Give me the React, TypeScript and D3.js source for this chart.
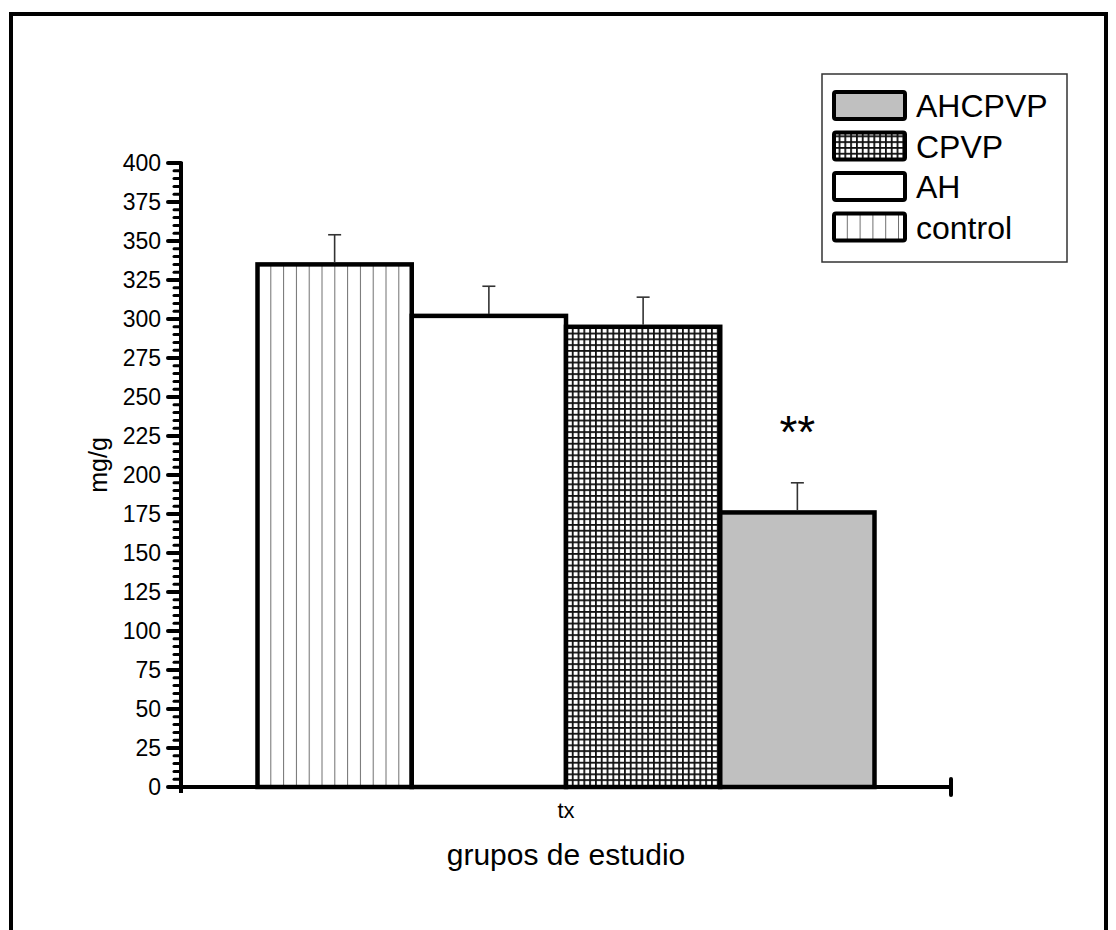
import React from "react";
import * as d3 from "d3";

// values
const groups = ["control", "AH", "CPVP", "AHCPVP"];
const means = [335, 302, 295, 176];
const errors = [19, 19, 19, 19];
const categories = ["tx"];
const marks = ["", "", "", "**"];
const yTicks = [0, 25, 50, 75, 100, 125, 150, 175, 200, 225, 250, 275, 300, 325, 350, 375, 400];
const legendOrder = ["AHCPVP", "CPVP", "AH", "control"];

const W = 1116;
const H = 930;
const font = "'Liberation Sans', Arial, Helvetica, sans-serif";

const fills: Record<string, string> = {
  control: "url(#vlines)",
  AH: "#ffffff",
  CPVP: "url(#grid)",
  AHCPVP: "#c0c0c0",
};

export default function App() {
  const x0 = d3.scaleBand().domain(categories).range([181, 951]).paddingInner(0).paddingOuter(0.124);
  const x1 = d3
    .scaleBand()
    .domain(groups)
    .range([x0("tx")!, x0("tx")! + x0.bandwidth()])
    .padding(0);
  const y = d3.scaleLinear().domain([0, 400]).range([787, 163]);

  const minor = d3.range(0, 401, 5).filter(v => v % 25 !== 0);

  return (
    <svg
      width={W}
      height={H}
      style={{ position: "absolute", left: 0, top: 0, background: "#fff" }}
      fontFamily={font}
    >
      <defs>
        <pattern id="vlines" patternUnits="userSpaceOnUse" width={12.8} height={10} x={x1("control")!}>
          <rect width={12.8} height={10} fill="#fff" />
          <line x1={0} x2={0} y1={0} y2={10} stroke="#707070" strokeWidth={2} />
        </pattern>
        <pattern id="grid" patternUnits="userSpaceOnUse" width={5.8} height={5.8} x={x1("CPVP")!} y={y(295)}>
          <rect width={5.8} height={5.8} fill="#fff" />
          <line x1={0.9} x2={0.9} y1={0} y2={5.8} stroke="#111" strokeWidth={1.8} />
          <line x1={0} x2={5.8} y1={0.9} y2={0.9} stroke="#111" strokeWidth={1.8} />
        </pattern>
        <pattern id="vlinesLeg" patternUnits="userSpaceOnUse" width={12.8} height={10} x={834}>
          <rect width={12.8} height={10} fill="#fff" />
          <line x1={0} x2={0} y1={0} y2={10} stroke="#707070" strokeWidth={2} />
        </pattern>
      </defs>

      {/* outer frame */}
      <rect x={11} y={14} width={1095} height={960} fill="none" stroke="#000" strokeWidth={4} />

      {/* bars */}
      {groups.map((g, i) => (
        <rect
          key={g}
          x={x1(g)!}
          y={y(means[i])}
          width={x1.bandwidth()}
          height={y(0) - y(means[i])}
          fill={fills[g]}
          stroke="#000"
          strokeWidth={4.5}
        />
      ))}

      {/* error bars */}
      {groups.map((g, i) => {
        const cx = x1(g)! + x1.bandwidth() / 2;
        return (
          <g key={g + "e"} stroke="#333" strokeWidth={1.6}>
            <line x1={cx} x2={cx} y1={y(means[i]) - 2} y2={y(means[i] + errors[i])} />
            <line x1={cx - 6.5} x2={cx + 6.5} y1={y(means[i] + errors[i])} y2={y(means[i] + errors[i])} />
          </g>
        );
      })}

      {/* significance marks */}
      {groups.map((g, i) =>
        marks[i] ? (
          <text
            key={g + "m"}
            x={x1(g)! + x1.bandwidth() / 2}
            y={y(means[i] + errors[i]) - 35}
            textAnchor="middle"
            fontSize={46}
          >
            {marks[i]}
          </text>
        ) : null
      )}

      {/* y axis */}
      <line x1={181} x2={181} y1={y(400) - 1} y2={793} stroke="#000" strokeWidth={4} />
      {minor.map(v => (
        <line key={"m" + v} x1={174} x2={181} y1={y(v)} y2={y(v)} stroke="#000" strokeWidth={3} strokeLinecap="round" />
      ))}
      {yTicks.map(v => (
        <g key={"t" + v}>
          <line x1={168} x2={181} y1={y(v)} y2={y(v)} stroke="#000" strokeWidth={4} strokeLinecap="round" />
          <text x={161} y={y(v)} dy="0.35em" textAnchor="end" fontSize={23}>
            {v}
          </text>
        </g>
      ))}

      {/* x axis */}
      <line x1={181} x2={951} y1={y(0)} y2={y(0)} stroke="#000" strokeWidth={4} />
      <line x1={951} x2={951} y1={y(0) - 8} y2={y(0) + 8} stroke="#000" strokeWidth={4} strokeLinecap="round" />
      {categories.map(c => (
        <text key={c} x={x0(c)! + x0.bandwidth() / 2} y={818} textAnchor="middle" fontSize={22}>
          {c}
        </text>
      ))}

      {/* axis titles */}
      <text x={566} y={865} textAnchor="middle" fontSize={30}>
        grupos de estudio
      </text>
      <text transform="translate(107,465) rotate(-90)" textAnchor="middle" fontSize={25}>
        mg/g
      </text>

      {/* legend */}
      <rect x={822} y={74} width={245} height={188} fill="#fff" stroke="#333" strokeWidth={1.5} />
      {legendOrder.map((g, i) => {
        const top = 92 + i * 40.5;
        return (
          <g key={"l" + g}>
            <rect
              x={834}
              y={top}
              width={71}
              height={27}
              rx={2}
              fill={g === "control" ? "url(#vlinesLeg)" : fills[g]}
              stroke="#000"
              strokeWidth={4}
            />
            <text x={916} y={top + 25} fontSize={32}>
              {g}
            </text>
          </g>
        );
      })}
    </svg>
  );
}
